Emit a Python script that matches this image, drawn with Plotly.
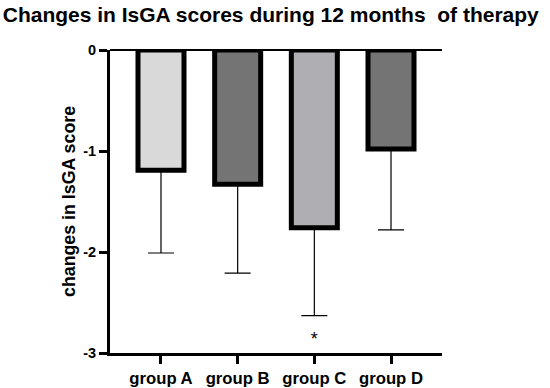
import plotly.graph_objects as go

groups = ["group A", "group B", "group C", "group D"]
means = [-1.19, -1.33, -1.76, -0.98]
err_minus = [0.82, 0.88, 0.87, 0.80]
colors = ["#d9d9d9", "#747474", "#afafb3", "#747474"]
star_y = [None, None, -2.88, None]
star_text = ["", "", "*", ""]
y_ticks = [0, -1, -2, -3]

FONT = "Liberation Sans, Arial, sans-serif"

fig = go.Figure()
fig.add_trace(go.Bar(
    x=groups, y=means, width=0.6,
    marker=dict(color=colors, line=dict(color="black", width=5)),
    error_y=dict(type="data", symmetric=False, array=[0, 0, 0, 0], arrayminus=err_minus,
                 color="black", thickness=1.2, width=13),
    showlegend=False,
))
fig.add_trace(go.Scatter(
    x=groups, y=star_y, mode="text", text=star_text,
    textfont=dict(family=FONT, size=18, color="black"),
    textposition="middle center", showlegend=False,
))

fig.update_layout(
    width=550, height=388,
    margin=dict(l=110, r=108, t=50, b=35, autoexpand=False),
    paper_bgcolor="white", plot_bgcolor="white",
    title=dict(text="<b>Changes in IsGA scores during 12 months&nbsp; of therapy</b>",
               x=0.005, xanchor="left", y=0.962, yanchor="middle", automargin=False,
               font=dict(family=FONT, size=21, color="black")),
    font=dict(family=FONT, color="black"),
    annotations=[dict(text="<b>changes in IsGA score</b>", textangle=-90,
                      xref="paper", yref="paper", x=-0.125, y=0.5,
                      xanchor="center", yanchor="middle", showarrow=False,
                      font=dict(family=FONT, size=17.8, color="black"))],
)
fig.update_yaxes(
    range=[-3, 0], tickvals=y_ticks, ticktext=["<b>%d</b>" % v for v in y_ticks],
    showline=True, linecolor="black", linewidth=3, automargin=False,
    ticks="outside", ticklen=8, tickwidth=3, tickcolor="black",
    showgrid=False, zeroline=True, zerolinecolor="black", zerolinewidth=2,
    tickfont=dict(family=FONT, size=14.5, color="black"),
)
fig.update_xaxes(
    range=[-0.665, 3.665], tickvals=groups, ticktext=["<b>%s</b>" % g for g in groups],
    showline=True, linecolor="black", linewidth=3, automargin=False,
    ticks="outside", ticklen=8, tickwidth=3, tickcolor="black",
    showgrid=False, zeroline=False,
    tickfont=dict(family=FONT, size=16.7, color="black"),
)

fig.write_html("out.html", config={"displayModeBar": False},
               post_script="document.body.style.margin='0';document.body.style.overflow='hidden';")
